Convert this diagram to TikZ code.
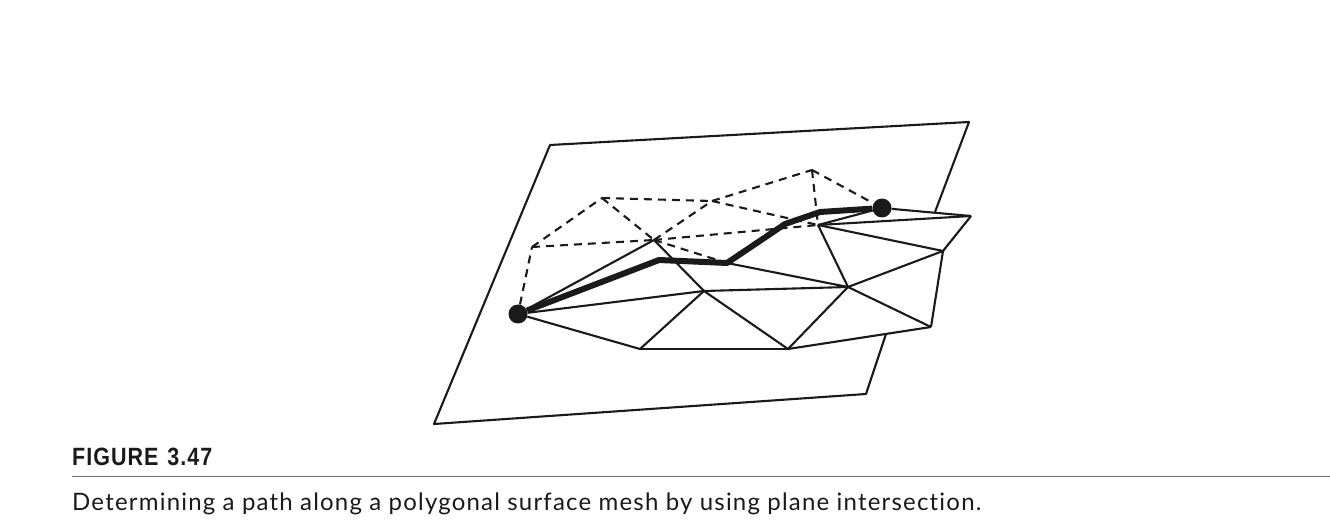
\documentclass[tikz,border=0pt]{standalone}
\usepackage{fontspec}
\setmainfont[LetterSpace=5,RawFeature=-liga]{Lato}
\newfontfamily\labelfont[FakeStretch=0.86,LetterSpace=4,BoldFont={Liberation Sans Bold}]{Liberation Sans Bold}
\usepackage{xcolor}
\definecolor{ink}{HTML}{1A1A1A}
\definecolor{rulegray}{HTML}{6E6E6E}

\begin{document}
\begin{tikzpicture}[x=1pt,y=-1pt,
 every node/.style={align=left,text=ink},
 edge/.style={draw=ink,line width=2.1pt,line join=round},
 hidden/.style={draw=ink,line width=2.1pt,dash pattern=on 8pt off 6pt},
 route/.style={draw=ink,line width=6pt,line join=round},
 endpoint/.style={circle,fill=ink,inner sep=0pt,minimum size=19pt}]
    \useasboundingbox (0,0) rectangle (1330,526);
    % plane corners
    \coordinate (pa) at (550,145);
    \coordinate (pb) at (969,122);
    \coordinate (pc) at (935,212);
    \coordinate (pd) at (886,334);
    \coordinate (pe) at (866,394);
    \coordinate (pf) at (434,424);
    \draw[edge] (pc) -- (pb) -- (pa) -- (pf) -- (pe) -- (pd);
    % mesh vertices
    \node[endpoint] (start) at (518,314) {};
    \node[endpoint] (finish) at (882,208) {};
    \coordinate (m1) at (654,240);
    \coordinate (m2) at (704,291);
    \coordinate (m3) at (640,349);
    \coordinate (m4) at (788,349);
    \coordinate (m5) at (848,287);
    \coordinate (m6) at (931,327);
    \coordinate (m7) at (943,251);
    \coordinate (m8) at (971,216);
    \coordinate (m9) at (818,225);
    \coordinate (r1) at (659,260);
    \coordinate (r2) at (727,263);
    \coordinate (r3) at (785,224);
    \coordinate (r4) at (820,212);
    \coordinate (b1) at (532,247);
    \coordinate (b2) at (602,198);
    \coordinate (b3) at (712,201);
    \coordinate (b4) at (812,170);
    % back side
    \draw[hidden] (start) -- (b1);
    \draw[hidden] (b1) -- (b2);
    \draw[hidden] (b1) -- (m1);
    \draw[hidden] (b2) -- (m1);
    \draw[hidden] (b2) -- (b3);
    \draw[hidden] (m1) -- (b3);
    \draw[hidden] (m1) -- (r2);
    \draw[hidden] (m1) -- (m9);
    \draw[hidden] (b3) -- (b4);
    \draw[hidden] (b3) -- (m9);
    \draw[hidden] (b4) -- (m9);
    \draw[hidden] (b4) -- (finish);
    % front side
    \draw[edge] (start) -- (m1);
    \draw[edge] (start) -- (m2);
    \draw[edge] (start) -- (m3);
    \draw[edge] (m1) -- (m2);
    \draw[edge] (m3) -- (m2);
    \draw[edge] (m3) -- (m4);
    \draw[edge] (m2) -- (m4);
    \draw[edge] (m2) -- (m5);
    \draw[edge] (m4) -- (m5);
    \draw[edge] (m4) -- (m6);
    \draw[edge] (m5) -- (m6);
    \draw[edge] (m6) -- (m7);
    \draw[edge] (m5) -- (m7);
    \draw[edge] (m7) -- (m8);
    \draw[edge] (m7) -- (m9);
    \draw[edge] (m8) -- (m9);
    \draw[edge] (m8) -- (finish);
    \draw[edge] (m9) -- (finish);
    \draw[edge] (m9) -- (m5);
    \draw[edge] (r2) -- (m5);
    % intersection path
    \draw[route] (start) -- (r1) -- (r2) -- (r3) -- (r4) -- (finish);
    % caption
    \node[anchor=base west,inner sep=0pt,font=\fontsize{25}{28}\labelfont] (figlabel) at (72,465) {FIGURE\hspace{9pt}3.47};
    \coordinate (rulel) at (72,476.5);
    \coordinate (ruler) at (1330,476.5);
    \draw[draw=rulegray,line width=1.5pt] (rulel) -- (ruler);
    \node[anchor=base west,inner sep=0pt,font=\fontsize{24}{28}\selectfont] (figtext) at (72,510) {Determining a path along a polygonal surface mesh by using plane intersection.};
\end{tikzpicture}
\end{document}
